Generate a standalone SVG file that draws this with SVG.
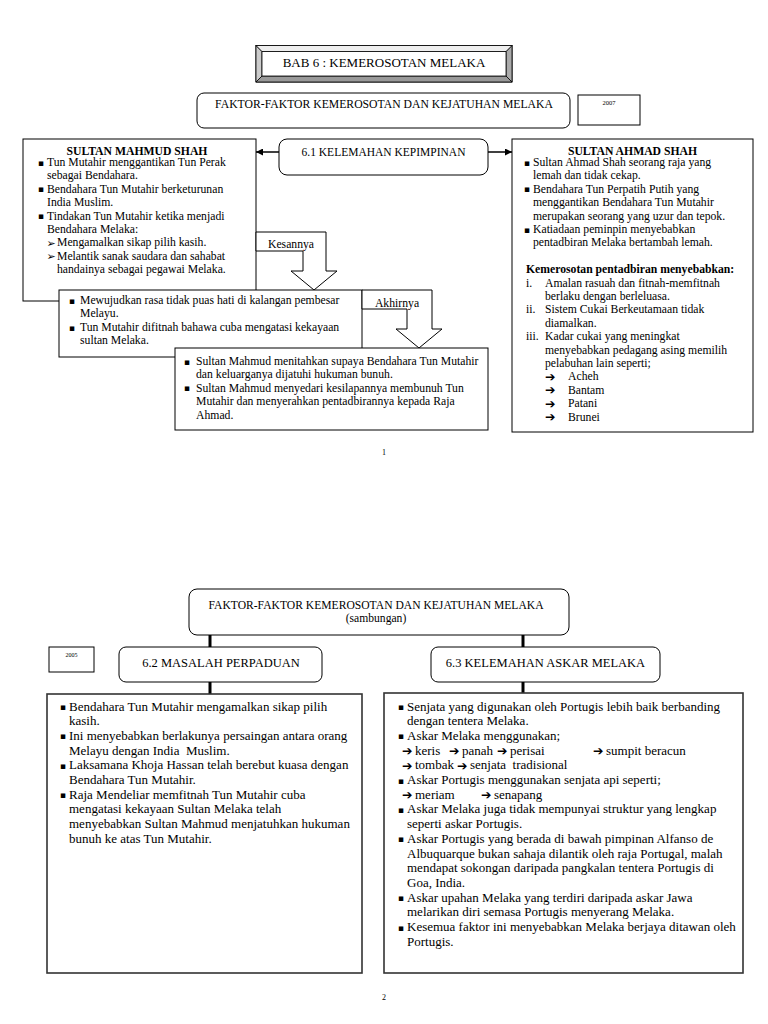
<svg xmlns="http://www.w3.org/2000/svg" width="768" height="1024" viewBox="0 0 768 1024">
<style>
.t{font-family:"Liberation Serif","Times New Roman",serif;font-size:11.7px;fill:#000}
.tb{font-family:"Liberation Serif","Times New Roman",serif;font-size:11.7px;font-weight:bold;fill:#000}
.bt{font-family:"Liberation Serif","Times New Roman",serif;font-size:13px;fill:#000}
.h{font-family:"Liberation Serif","Times New Roman",serif;fill:#000}
.s{font-family:"DejaVu Sans",sans-serif;fill:#000}
.bu{font-family:"DejaVu Sans",sans-serif;font-size:9px;fill:#000;text-anchor:middle}
.ar{font-family:"DejaVu Sans",sans-serif;font-size:12.5px;font-weight:bold;fill:#000}
.box{fill:#fff;stroke:#000;stroke-width:1}
.bbox{fill:#fff;stroke:#333;stroke-width:1.6}
.conn{stroke:#000;fill:none}
.c{text-anchor:middle}
</style>
<defs>
<marker id="ah" viewBox="0 0 10 10" refX="10" refY="5" markerWidth="7" markerHeight="7" markerUnits="userSpaceOnUse" orient="auto"><path d="M0,0 L10,5 L0,10 z" fill="#000"/></marker>
</defs>
<rect width="768" height="1024" fill="#fff"/>

<g id="title">
<rect x="256" y="45.5" width="256" height="36.5" fill="#fff" stroke="#000"/>
<path d="M256,45.5 L262,51.5 L262,76 L256,82 z" fill="#ccc" stroke="#000" stroke-width="0.8"/>
<path d="M256,82 L262,76 L506,76 L512,82 z" fill="#999" stroke="#000" stroke-width="0.8"/>
<path d="M512,45.5 L506,51.5 L506,76 L512,82 z" fill="#aaa" stroke="#000" stroke-width="0.8"/>
<path d="M256,45.5 L262,51.5 L506,51.5 L512,45.5 z" fill="#eee" stroke="#000" stroke-width="0.8"/>
<rect x="262" y="51.5" width="244" height="24.5" fill="#fff" stroke="#000" stroke-width="0.8"/>
<text class="h c" x="384" y="67" font-size="13">BAB 6 : KEMEROSOTAN MELAKA</text>
</g>

<g id="faktor1">
<rect class="box" x="197" y="93" width="373" height="35" rx="7"/>
<text class="h c" x="384" y="108" font-size="11.7">FAKTOR-FAKTOR KEMEROSOTAN DAN KEJATUHAN MELAKA</text>
</g>

<g id="year2007">
<rect class="box" x="578" y="95" width="62" height="30"/>
<text class="h c" x="609" y="104.5" font-size="6.5">2007</text>
</g>

<g id="connectors">
<line class="conn" x1="279" y1="152" x2="256" y2="152" stroke-width="1.5" marker-end="url(#ah)"/>
<line class="conn" x1="488" y1="152" x2="512" y2="152" stroke-width="1.5" marker-end="url(#ah)"/>
<line class="conn" x1="210" y1="635" x2="210" y2="647" stroke-width="3"/>
<line class="conn" x1="210" y1="682" x2="210" y2="694" stroke-width="3"/>
<line class="conn" x1="523" y1="635" x2="523" y2="647" stroke-width="3"/>
<line class="conn" x1="523" y1="682" x2="523" y2="693" stroke-width="3"/>
</g>

<g id="kelemahan-kepimpinan">
<rect class="box" x="279" y="139" width="209" height="36" rx="8"/>
<text class="h c" x="383.5" y="156" font-size="11.5">6.1 KELEMAHAN KEPIMPINAN</text>
</g>

<g id="sultan-mahmud">
<rect class="box" x="23" y="139" width="233" height="162"/>
<text class="tb c" x="137" y="155">SULTAN MAHMUD SHAH</text>
<text class="bu" x="41" y="165.5">▪</text>
<text class="t" x="47" y="166">Tun Mutahir menggantikan Tun Perak</text>
<text class="t" x="47" y="179.4">sebagai Bendahara.</text>
<text class="bu" x="41" y="192.3">▪</text>
<text class="t" x="47" y="192.8">Bendahara Tun Mutahir berketurunan</text>
<text class="t" x="47" y="206.2">India Muslim.</text>
<text class="bu" x="41" y="219.1">▪</text>
<text class="t" x="47" y="219.6">Tindakan Tun Mutahir ketika menjadi</text>
<text class="t" x="47" y="233">Bendahara Melaka:</text>
<text class="s" x="46.5" y="246.6" font-size="11">➢</text>
<text class="t" x="57" y="246.4">Mengamalkan sikap pilih kasih.</text>
<text class="s" x="46.5" y="260" font-size="11">➢</text>
<text class="t" x="57" y="259.8">Melantik sanak saudara dan sahabat</text>
<text class="t" x="57" y="273.2">handainya sebagai pegawai Melaka.</text>
</g>

<g id="kesannya">
<path class="box" d="M256,232 H326 V271 H337 L314,290 L291,271 H303 V251 H256 z"/>
<text class="t c" x="291" y="248">Kesannya</text>
</g>

<g id="kesan-box">
<rect class="box" x="59" y="290" width="303" height="67"/>
<text class="bu" x="72" y="303.5">▪</text>
<text class="t" x="80" y="304">Mewujudkan rasa tidak puas hati di kalangan pembesar</text>
<text class="t" x="80" y="317.4">Melayu.</text>
<text class="bu" x="72" y="330.5">▪</text>
<text class="t" x="80" y="331">Tun Mutahir difitnah bahawa cuba mengatasi kekayaan</text>
<text class="t" x="80" y="344.4">sultan Melaka.</text>
</g>

<g id="akhirnya">
<path class="box" d="M362,290 H432 V329 H442 L419,348 L396,329 H407 V309 H362 z"/>
<text class="t c" x="397" y="307">Akhirnya</text>
</g>

<g id="akhir-box">
<rect class="box" x="175" y="348" width="313" height="82"/>
<text class="bu" x="187" y="364.5">▪</text>
<text class="t" x="196" y="365">Sultan Mahmud menitahkan supaya Bendahara Tun Mutahir</text>
<text class="t" x="196" y="378.4">dan keluarganya dijatuhi hukuman bunuh.</text>
<text class="bu" x="187" y="391.3">▪</text>
<text class="t" x="196" y="391.8">Sultan Mahmud menyedari kesilapannya membunuh Tun</text>
<text class="t" x="196" y="405.2">Mutahir dan menyerahkan pentadbirannya kepada Raja</text>
<text class="t" x="196" y="418.6">Ahmad.</text>
</g>

<g id="sultan-ahmad">
<rect class="box" x="512" y="139" width="241" height="293"/>
<text class="tb c" x="632.5" y="155">SULTAN AHMAD SHAH</text>
<text class="bu" x="527" y="165.5">▪</text>
<text class="t" x="533" y="166">Sultan Ahmad Shah seorang raja yang</text>
<text class="t" x="533" y="179.4">lemah dan tidak cekap.</text>
<text class="bu" x="527" y="192.3">▪</text>
<text class="t" x="533" y="192.8">Bendahara Tun Perpatih Putih yang</text>
<text class="t" x="533" y="206.2">menggantikan Bendahara Tun Mutahir</text>
<text class="t" x="533" y="219.6">merupakan seorang yang uzur dan tepok.</text>
<text class="bu" x="527" y="232.5">▪</text>
<text class="t" x="533" y="233">Katiadaan peminpin menyebabkan</text>
<text class="t" x="533" y="246.4">pentadbiran Melaka bertambah lemah.</text>
<text class="tb" x="526" y="273.2">Kemerosotan pentadbiran menyebabkan:</text>
<text class="t" x="526" y="286.6">i.</text>
<text class="t" x="545" y="286.6">Amalan rasuah dan fitnah-memfitnah</text>
<text class="t" x="545" y="300">berlaku dengan berleluasa.</text>
<text class="t" x="526" y="313.4">ii.</text>
<text class="t" x="545" y="313.4">Sistem Cukai Berkeutamaan tidak</text>
<text class="t" x="545" y="326.8">diamalkan.</text>
<text class="t" x="526" y="340.2">iii.</text>
<text class="t" x="545" y="340.2">Kadar cukai yang meningkat</text>
<text class="t" x="545" y="353.6">menyebabkan pedagang asing memilih</text>
<text class="t" x="545" y="367">pelabuhan lain seperti;</text>
<text class="ar" x="545" y="380.8">➔</text>
<text class="t" x="568" y="380.4">Acheh</text>
<text class="ar" x="545" y="394.2">➔</text>
<text class="t" x="568" y="393.8">Bantam</text>
<text class="ar" x="545" y="407.6">➔</text>
<text class="t" x="568" y="407.2">Patani</text>
<text class="ar" x="545" y="421">➔</text>
<text class="t" x="568" y="420.6">Brunei</text>
</g>

<text class="h c" x="384" y="455" font-size="8">1</text>

<g id="faktor2">
<rect class="box" x="189" y="589" width="380" height="46" rx="8"/>
<text class="h c" x="376" y="609" font-size="11.6">FAKTOR-FAKTOR KEMEROSOTAN DAN KEJATUHAN MELAKA</text>
<text class="h c" x="376" y="621.5" font-size="11.6">(sambungan)</text>
</g>

<g id="year2005">
<rect class="box" x="49" y="647" width="45" height="25"/>
<text class="h c" x="71.5" y="657" font-size="6">2005</text>
</g>

<g id="masalah-perpaduan">
<rect class="box" x="119" y="647" width="203" height="35" rx="7"/>
<text class="h c" x="221" y="666.5" font-size="12.5">6.2 MASALAH PERPADUAN</text>
</g>

<g id="kelemahan-askar">
<rect class="box" x="431" y="647" width="229" height="35" rx="7"/>
<text class="h c" x="545.5" y="666.5" font-size="12.5">6.3 KELEMAHAN ASKAR MELAKA</text>
</g>

<g id="perpaduan-box">
<rect class="bbox" x="47" y="694" width="315" height="279"/>
<text class="bu" x="63" y="710">▪</text>
<text class="bt" x="69" y="710.5">Bendahara Tun Mutahir mengamalkan sikap pilih</text>
<text class="bt" x="69" y="725.2">kasih.</text>
<text class="bu" x="63" y="739.4">▪</text>
<text class="bt" x="69" y="739.9">Ini menyebabkan berlakunya persaingan antara orang</text>
<text class="bt" x="69" y="754.6" xml:space="preserve">Melayu dengan India  Muslim.</text>
<text class="bu" x="63" y="768.8">▪</text>
<text class="bt" x="69" y="769.3">Laksamana Khoja Hassan telah berebut kuasa dengan</text>
<text class="bt" x="69" y="784">Bendahara Tun Mutahir.</text>
<text class="bu" x="63" y="798.2">▪</text>
<text class="bt" x="69" y="798.7">Raja Mendeliar memfitnah Tun Mutahir cuba</text>
<text class="bt" x="69" y="813.4">mengatasi kekayaan Sultan Melaka telah</text>
<text class="bt" x="69" y="828.1">menyebabkan Sultan Mahmud menjatuhkan hukuman</text>
<text class="bt" x="69" y="842.8">bunuh ke atas Tun Mutahir.</text>
</g>

<g id="askar-box">
<rect class="bbox" x="384" y="693" width="359" height="280"/>
<text class="bu" x="401" y="710">▪</text>
<text class="bt" x="407" y="710.5">Senjata yang digunakan oleh Portugis lebih baik berbanding</text>
<text class="bt" x="407" y="725.2">dengan tentera Melaka.</text>
<text class="bu" x="401" y="739.4">▪</text>
<text class="bt" x="407" y="739.9">Askar Melaka menggunakan;</text>
<text class="ar" x="402" y="754.8">➔</text>
<text class="bt" x="415" y="754.6">keris</text>
<text class="ar" x="449" y="754.8">➔</text>
<text class="bt" x="462" y="754.6">panah</text>
<text class="ar" x="497" y="754.8">➔</text>
<text class="bt" x="510" y="754.6">perisai</text>
<text class="ar" x="593" y="754.8">➔</text>
<text class="bt" x="606" y="754.6">sumpit beracun</text>
<text class="ar" x="402" y="769.5">➔</text>
<text class="bt" x="415" y="769.3">tombak</text>
<text class="ar" x="457" y="769.5">➔</text>
<text class="bt" x="470" y="769.3" xml:space="preserve">senjata  tradisional</text>
<text class="bu" x="401" y="783.5">▪</text>
<text class="bt" x="407" y="784">Askar Portugis menggunakan senjata api seperti;</text>
<text class="ar" x="402" y="798.9">➔</text>
<text class="bt" x="415" y="798.7">meriam</text>
<text class="ar" x="481" y="798.9">➔</text>
<text class="bt" x="494" y="798.7">senapang</text>
<text class="bu" x="401" y="812.9">▪</text>
<text class="bt" x="407" y="813.4">Askar Melaka juga tidak mempunyai struktur yang lengkap</text>
<text class="bt" x="407" y="828.1">seperti askar Portugis.</text>
<text class="bu" x="401" y="842.3">▪</text>
<text class="bt" x="407" y="842.8">Askar Portugis yang berada di bawah pimpinan Alfanso de</text>
<text class="bt" x="407" y="857.5">Albuquarque bukan sahaja dilantik oleh raja Portugal, malah</text>
<text class="bt" x="407" y="872.2">mendapat sokongan daripada pangkalan tentera Portugis di</text>
<text class="bt" x="407" y="886.9">Goa, India.</text>
<text class="bu" x="401" y="901.1">▪</text>
<text class="bt" x="407" y="901.6">Askar upahan Melaka yang terdiri daripada askar Jawa</text>
<text class="bt" x="407" y="916.3">melarikan diri semasa Portugis menyerang Melaka.</text>
<text class="bu" x="401" y="930.5">▪</text>
<text class="bt" x="407" y="931">Kesemua faktor ini menyebabkan Melaka berjaya ditawan oleh</text>
<text class="bt" x="407" y="945.7">Portugis.</text>
</g>

<text class="h c" x="384" y="1000" font-size="8">2</text>
</svg>
